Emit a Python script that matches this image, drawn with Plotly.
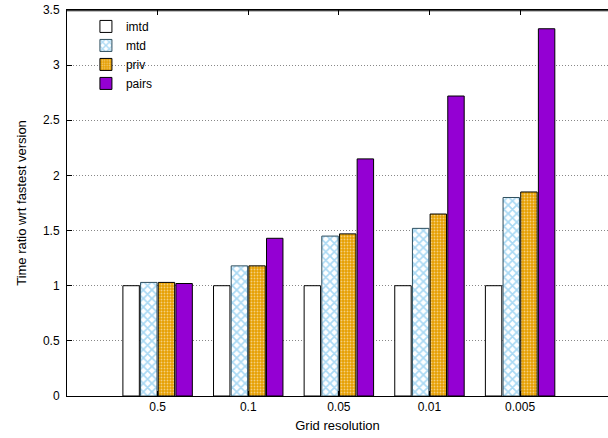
import plotly.graph_objects as go

categories = ["0.5", "0.1", "0.05", "0.01", "0.005"]
imtd = [1.00, 1.00, 1.00, 1.00, 1.00]
mtd = [1.03, 1.18, 1.45, 1.52, 1.80]
priv = [1.03, 1.18, 1.47, 1.65, 1.85]
pairs = [1.02, 1.43, 2.15, 2.72, 3.33]
y_ticks = [0, 0.5, 1, 1.5, 2, 2.5, 3, 3.5]
y_labels = ["0", "0.5", "1", "1.5", "2", "2.5", "3", "3.5"]

font = "Liberation Sans, Arial, sans-serif"

fig = go.Figure()
fig.add_trace(go.Bar(
    name="imtd", x=categories, y=imtd,
    marker=dict(color="white", line=dict(color="black", width=1)),
))
fig.add_trace(go.Bar(
    name="mtd", x=categories, y=mtd,
    marker=dict(color="white", line=dict(color="#2f4f5f", width=1),
                pattern=dict(shape="x", fgcolor="#56B4E9", bgcolor="white",
                             size=6, solidity=0.5, fillmode="overlay")),
))
fig.add_trace(go.Bar(
    name="priv", x=categories, y=priv,
    marker=dict(color="#E69F00", line=dict(color="black", width=1),
                pattern=dict(shape=".", fgcolor="white", bgcolor="#E69F00",
                             size=3, solidity=0.3, fillmode="overlay")),
))
fig.add_trace(go.Bar(
    name="pairs", x=categories, y=pairs,
    marker=dict(color="#9400D3", line=dict(color="black", width=1)),
))

fig.update_layout(
    width=608, height=438,
    margin=dict(l=67, r=0, t=10, b=42),
    paper_bgcolor="white", plot_bgcolor="white",
    font=dict(family=font, size=12, color="black"),
    barmode="group", bargap=0.22, bargroupgap=0.07,
    showlegend=True,
    legend=dict(x=0.035, y=0.995, xanchor="left", yanchor="top",
                bgcolor="rgba(0,0,0,0)", font=dict(size=12),
                tracegroupgap=0),
    xaxis=dict(
        type="category", range=[-1, 4.97],
        showline=True, linecolor="black", linewidth=1, mirror="allticks",
        ticks="inside", ticklen=5, tickcolor="black",
        showgrid=False, zeroline=False,
        title=dict(text="Grid resolution", font=dict(size=13), standoff=7),
        tickfont=dict(size=12),
    ),
    yaxis=dict(
        range=[0, 3.5], tickvals=y_ticks, ticktext=y_labels,
        showline=True, linecolor="black", linewidth=1, mirror=False,
        ticks="inside", ticklen=5, tickcolor="black",
        showgrid=True, gridcolor="#888888", griddash="1px,2px", gridwidth=1,
        zeroline=False,
        title=dict(text="Time ratio wrt fastest version", font=dict(size=13), standoff=13),
        tickfont=dict(size=12), ticklabelstandoff=4,
    ),
    shapes=[dict(type="line", xref="paper", yref="paper", x0=0, x1=1, y0=0.998, y1=0.998,
                 line=dict(color="black", width=1.2), layer="above")],
)

fig.write_html("out.html", config={"displayModeBar": False},
               post_script="document.body.style.margin='0';")
